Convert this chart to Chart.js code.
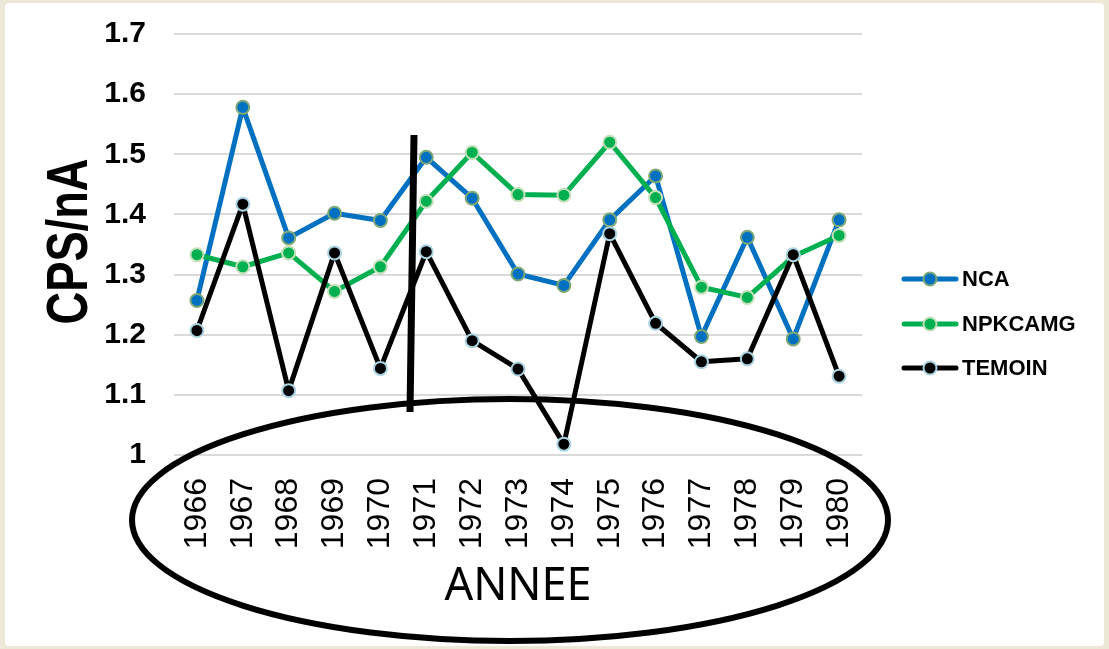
<!DOCTYPE html>
<html>
<head>
<meta charset="utf-8">
<script src="https://cdn.jsdelivr.net/npm/chart.js@4.4.1/dist/chart.umd.min.js"></script>
<style>
    html, body { margin: 0; padding: 0; background: #ebe8d8; }
    #wrap { width: 1109px; height: 649px; }
</style>
</head>
<body>
<div id="wrap"><canvas id="cpsChart" width="1109" height="649"></canvas></div>
<script>
var years = ["1966", "1967", "1968", "1969", "1970", "1971", "1972", "1973", "1974", "1975", "1976", "1977", "1978", "1979", "1980"];
var nca = [1.257, 1.578, 1.361, 1.402, 1.390, 1.495, 1.427, 1.301, 1.282, 1.391, 1.464, 1.197, 1.362, 1.193, 1.391];
var npkcamg = [1.333, 1.313, 1.336, 1.272, 1.313, 1.422, 1.503, 1.433, 1.432, 1.520, 1.428, 1.279, 1.262, 1.330, 1.365];
var temoin = [1.207, 1.417, 1.107, 1.336, 1.144, 1.338, 1.190, 1.143, 1.018, 1.368, 1.219, 1.155, 1.160, 1.333, 1.131];

var yTitle = "CPS/nA";
var xTitle = "ANNEE";

var seriesStyles = [
    { label: "NCA", line: "#0070c0", fill: "#0070c0", edge: "#7fa878" },
    { label: "NPKCAMG", line: "#00b050", fill: "#00b050", edge: "#c3dfb8" },
    { label: "TEMOIN", line: "#000000", fill: "#000000", edge: "#a9d3e0" }
];

function makeDataset(style, values, order) {
    return {
        label: style.label,
        data: values,
        borderColor: style.line,
        backgroundColor: style.fill,
        borderWidth: 5,
        borderJoinStyle: "round",
        pointRadius: 6.5,
        pointBorderWidth: 2,
        pointBackgroundColor: style.fill,
        pointBorderColor: style.edge,
        tension: 0,
        order: order
    };
}

// page frame: beige surround with a white card
var framePlugin = {
    id: 'frame',
    beforeDraw: function (chart) {
        var ctx = chart.ctx;
        ctx.save();
        ctx.fillStyle = "#ebe8d8";
        ctx.fillRect(0, 0, chart.width, chart.height);
        ctx.fillStyle = "#ffffff";
        ctx.beginPath();
        ctx.roundRect(5, 3, 1099, 643, 4);
        ctx.fill();
        ctx.restore();
    }
};

// condensed vertical axis title
var yTitlePlugin = {
    id: 'yTitle',
    afterDraw: function (chart) {
        var ctx = chart.ctx;
        var area = chart.chartArea;
        ctx.save();
        ctx.translate(71, (area.top + area.bottom) / 2 - 3);
        ctx.rotate(-Math.PI / 2);
        ctx.scale(0.78, 1);
        ctx.fillStyle = "#000";
        ctx.font = "bold 58px 'Liberation Sans', Arial, sans-serif";
        ctx.textAlign = "center";
        ctx.textBaseline = "middle";
        ctx.fillText(yTitle, 0, 0);
        ctx.restore();
    }
};

// hand-drawn marks: the ring round the year labels and the 1971 stroke
var markupPlugin = {
    id: 'markup',
    afterDraw: function (chart) {
        var ctx = chart.ctx;
        ctx.save();
        ctx.strokeStyle = "#000";
        ctx.lineWidth = 6;
        ctx.beginPath();
        ctx.ellipse(510, 520, 378, 121, 0, 0, Math.PI * 2);
        ctx.stroke();

        ctx.lineWidth = 7;
        ctx.beginPath();
        ctx.moveTo(414, 135);
        ctx.lineTo(410, 412);
        ctx.stroke();
        ctx.restore();
    }
};

// legend on the right: line with marker, then the series name
var sideLegend = {
    id: 'sideLegend',
    afterDraw: function (chart) {
        var ctx = chart.ctx;
        var rows = [279, 324, 368];
        ctx.save();
        chart.data.datasets.forEach(function (ds, i) {
            var y = rows[i];
            ctx.strokeStyle = ds.borderColor;
            ctx.lineWidth = 5;
            ctx.lineCap = "round";
            ctx.beginPath();
            ctx.moveTo(904, y);
            ctx.lineTo(956, y);
            ctx.stroke();
            ctx.beginPath();
            ctx.arc(930, y, 6.5, 0, Math.PI * 2);
            ctx.fillStyle = ds.pointBackgroundColor;
            ctx.fill();
            ctx.lineWidth = 2;
            ctx.strokeStyle = ds.pointBorderColor;
            ctx.stroke();
            ctx.fillStyle = "#000";
            ctx.font = "bold 22px 'Liberation Sans', Arial, sans-serif";
            ctx.textBaseline = "middle";
            ctx.textAlign = "left";
            ctx.fillText(ds.label, 962, y + 1);
        });
        ctx.restore();
    }
};

var chart = new Chart(document.getElementById("cpsChart"), {
    type: 'line',
    data: {
        labels: years,
        datasets: [
            makeDataset(seriesStyles[0], nca, 3),
            makeDataset(seriesStyles[1], npkcamg, 2),
            makeDataset(seriesStyles[2], temoin, 1)
        ]
    },
    options: {
        responsive: false,
        animation: false,
        devicePixelRatio: 1,
        layout: {
            padding: { left: 10, right: 247, top: 34, bottom: 0 }
        },
        plugins: {
            legend: { display: false },
            tooltip: { enabled: false }
        },
        scales: {
            x: {
                offset: true,
                grid: { display: false },
                border: { display: false },
                ticks: {
                    color: "#000",
                    minRotation: 90,
                    maxRotation: 90,
                    padding: 15,
                    font: { family: "'Liberation Sans', Arial, sans-serif", size: 32 }
                },
                title: {
                    display: true,
                    text: xTitle,
                    color: "#000",
                    padding: { top: 0, bottom: 35 },
                    font: { family: "'Noto Sans', sans-serif", size: 45 }
                },
                afterFit: function (scale) {
                    scale.height = 194;
                    scale.paddingLeft = 0;
                    scale.paddingRight = 0;
                }
            },
            y: {
                min: 1,
                max: 1.7,
                ticks: {
                    stepSize: 0.1,
                    color: "#000",
                    padding: 28,
                    font: { family: "'Liberation Sans', Arial, sans-serif", size: 30, weight: "bold" },
                    callback: function (v) { return Math.round(v * 10) / 10; }
                },
                grid: { color: "#d9d9d9", lineWidth: 2, drawTicks: false },
                border: { display: false },
                afterFit: function (scale) {
                    scale.width = 164;
                    scale.paddingTop = 0;
                    scale.paddingBottom = 0;
                }
            }
        }
    },
    plugins: [framePlugin, yTitlePlugin, markupPlugin, sideLegend]
});
</script>
</body>
</html>
